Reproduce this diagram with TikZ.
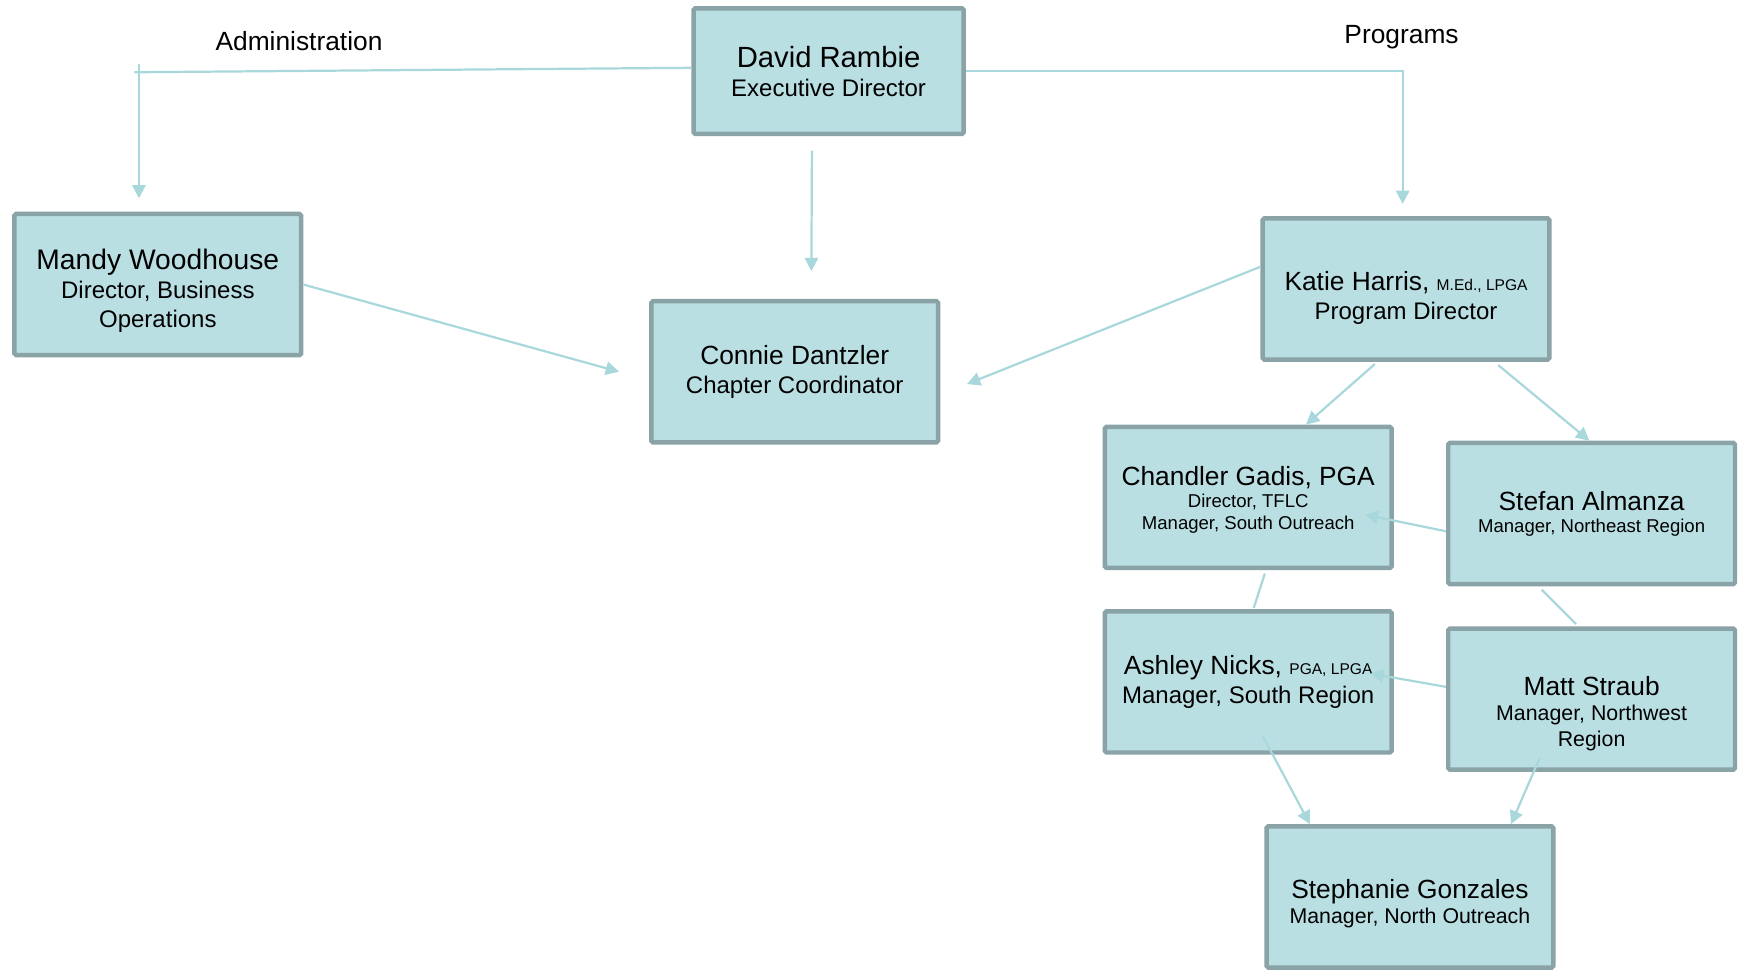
\documentclass[tikz,border=0pt]{standalone}
\usepackage{fontspec}
\setmainfont{Liberation Sans}
\usetikzlibrary{calc,arrows.meta}

\definecolor{boxfill}{HTML}{BADFE3}
\definecolor{boxedge}{HTML}{8AA3A6}
\definecolor{linkcol}{HTML}{A9D8DC}

\newcommand{\namefont}{\fontsize{23.7}{27}\selectfont}
\newcommand{\rolefont}{\fontsize{21.6}{26}\selectfont}
\newcommand{\midrole}{\fontsize{19.2}{23}\selectfont}
\newcommand{\smallrole}{\fontsize{16.7}{20}\selectfont}
\newcommand{\credfont}{\fontsize{14}{17}\selectfont}

\begin{document}
\begin{tikzpicture}[x=1pt,y=-1pt,
  person/.style={draw=boxedge, line width=4pt, fill=boxfill, rounded corners=1.5pt,
    minimum width=258, minimum height=127, align=center, inner sep=0pt, font=\rolefont},
  link/.style={draw=linkcol, line width=2pt},
  arrowlink/.style={link, -{Triangle[length=12pt,width=12pt]}}]
\useasboundingbox (0,0) rectangle (1570,873);

% headings
\node[font=\namefont] (admin) at (269,37) {Administration};
\node[font=\namefont] (progs) at (1261,33) {Programs};

% staff
\node[person, minimum width=243, minimum height=113] (david) at (745.5,64)
  {{\fontsize{26.3}{30}\selectfont David Rambie}\\Executive Director};
\node[person, text height=82pt] (mandy) at (142,256)
  {{\fontsize{25.4}{29}\selectfont Mandy Woodhouse}\\Director, Business\\Operations};
\node[person] (connie) at (715,334.5)
  {{\namefont Connie Dantzler}\\Chapter Coordinator};
\node[person, text height=59pt] (katie) at (1265,260)
  {{\namefont Katie Harris, {\credfont M.Ed., LPGA}}\\Program Director};
\node[person, font=\smallrole, text height=62pt] (chandler) at (1123,447.5)
  {{\namefont Chandler Gadis, PGA}\\Director, TFLC\\Manager, South Outreach};
\node[person, font=\smallrole] (stefan) at (1432,462)
  {{\namefont Stefan Almanza}\\Manager, Northeast Region};
\node[person] (ashley) at (1123,613.5)
  {{\namefont Ashley Nicks, {\credfont PGA, LPGA}}\\Manager, South Region};
\node[person, font=\midrole, text height=89pt] (matt) at (1432,629)
  {{\namefont Matt Straub}\\Manager, Northwest\\Region};
\node[person, font=\midrole, text height=52pt] (stephanie) at (1268.5,807)
  {{\namefont Stephanie Gonzales}\\Manager, North Outreach};

% reporting lines
\coordinate (admtop) at (125,58);
\draw[link] ([yshift=3pt]david.west) -- (121,65);
\draw[arrowlink] (admtop) -- ($(mandy.north)+(-17,-12)$);
\draw[arrowlink] (david.east) -| ($(katie.north)+(-3,-11)$);
\draw[arrowlink] ($(david.south)+(-15,13)$) -- ($(connie.north)+(15,-25)$);
\draw[arrowlink] (mandy.east) -- ($(connie.west)+(-27,0)$);
\draw[arrowlink] ($(katie.west)+(0,-20)$) -- ($(connie.east)+(24,11)$);
\draw[arrowlink] ($(katie.south)+(-28,2)$) -- ($(chandler.north)+(52,0)$);
\draw[arrowlink] ($(katie.south)+(83,3)$) -- ($(stefan.north)+(-2,0)$);
\draw[arrowlink] ($(stefan.west)+(0,16)$) -- ($(chandler.east)+(-26,15.5)$);
\draw[link] ($(chandler.south)+(15,3)$) -- ($(ashley.north)+(5,-1)$);
\draw[link] ($(stefan.south)+(-45,3)$) -- ($(matt.north)+(-14,-2)$);
\draw[arrowlink] ($(matt.west)+(0,-11)$) -- ($(ashley.east)+(-21,-7.5)$);
\draw[arrowlink] ($(ashley.south)+(13,-17)$) -- ($(stephanie.north)+(-90,0)$);
\draw[arrowlink] ($(matt.south)+(-47,-12)$) -- ($(stephanie.north)+(91,0)$);

\end{tikzpicture}
\end{document}
